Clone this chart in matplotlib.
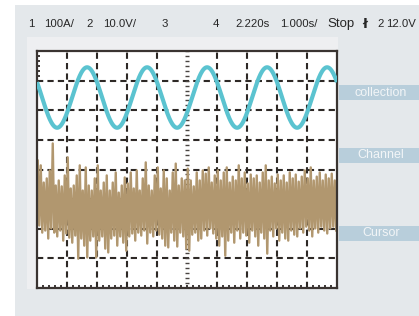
import numpy as np
import matplotlib.pyplot as plt
from matplotlib.patches import Rectangle

# scope settings shown in the header
header_tokens = ["1", "100A/", "2", "10.0V/", "3", "4", "2.220s", "1.000s/",
                 "Stop", "ł", "2", "12.0V"]
side_labels = ["collection", "Channel", "Cursor"]

# sine trace: 10 V/div, 1 s/div
sine_period = 2.0
sine_amplitude = 10.2
sine_offset = 24.3
sine_peak_time = 1.67

# noisy trace, one high/low pair per 0.1 s column (volts)
noise_high = [
    3.0, 1.4, -4.4, -3.0, -0.3, 8.8, -5.4, -3.7, -5.7, -2.0,
    4.1, -6.4, -5.4, -2.0, 1.4, -7.1, 0.7, -5.4, -7.1, -3.0,
    1.4, -7.1, -4.4, -2.0, -7.1, -4.4, -1.0, -7.8, -5.4, -2.7,
    -4.7, -1.0, -6.4, -0.3, -7.1, -3.0, 2.4, -5.4, -7.1, -2.0,
    0.7, -6.4, -0.3, -3.0, -7.1, -1.0, 2.0, -5.4, -3.0, -3.7,
    0.3, -3.7, -5.7, -1.0, -3.7, -0.3, -1.4, 0.7, -4.4, -2.0,
    -0.3, -3.7, -1.0, 0.7, -4.4, -2.4, -3.7, 1.4, -3.0, -1.0,
    -4.7, -1.7, -3.0, -2.0, -4.4, -1.0, 1.4, -3.7, -2.4, -4.7,
    -1.7, -3.7, -2.0, -4.4, -1.0, -3.0, -1.7, -4.1, -2.4, -0.3,
    -3.0, 0.7, -3.7, -2.4, -1.0, -3.7, -1.7, -3.0, -1.4, -3.7,
]
noise_low = [
    -18.9, -21.3, -20.6, -23.3, -19.9, -21.3, -22.6, -20.6, -24.0, -21.6,
    -23.0, -24.7, -22.3, -30.1, -23.3, -25.7, -29.7, -24.0, -22.6, -29.7,
    -24.0, -22.6, -26.7, -28.0, -23.3, -22.3, -25.7, -22.6, -24.7, -27.4,
    -22.6, -21.6, -24.0, -21.3, -22.3, -20.6, -25.0, -21.3, -22.6, -20.6,
    -22.0, -23.3, -25.7, -26.3, -21.3, -24.0, -26.0, -21.3, -22.6, -26.7,
    -27.4, -22.0, -21.3, -24.0, -23.3, -20.6, -22.3, -19.9, -21.6, -23.3,
    -25.7, -22.6, -29.1, -24.0, -21.3, -24.7, -20.6, -23.3, -21.3, -22.3,
    -24.7, -20.6, -22.6, -25.7, -21.3, -23.3, -28.4, -20.6, -22.6, -19.9,
    -24.0, -21.3, -23.3, -24.0, -20.6, -22.0, -22.6, -19.9, -21.3, -19.3,
    -20.6, -22.6, -19.9, -21.3, -19.3, -20.6, -21.6, -19.9, -19.3, -20.6,
]

W, H = 419, 316
GRID = "#2e2926"


def fig_rect(fig, x, y, w, h, color):
    # x, y given in pixels from the top-left corner
    fig.add_artist(Rectangle((x / W, 1 - (y + h) / H), w / W, h / H,
                             transform=fig.transFigure, facecolor=color,
                             edgecolor="none", zorder=0))


def main() -> None:
    fig = plt.figure(figsize=(W / 100, H / 100), dpi=100, facecolor="white")
    fig_rect(fig, 15, 5, W - 15, H - 5, "#e4e8eb")
    fig_rect(fig, 27, 37, 311, 252, "#eeeff1")

    ax = fig.add_axes([37 / W, (H - 288) / H, 300 / W, 237 / H])
    ax.set_xlim(0, 10)
    ax.set_ylim(-40, 40)
    ax.set_facecolor("white")
    for spine in ax.spines.values():
        spine.set_color("#3a3431")
        spine.set_linewidth(1.6)

    ax.set_xticks([])
    ax.set_yticks([])
    ax.set_xticks(np.arange(0.2, 10, 0.2), minor=True)
    ax.set_yticks(np.arange(30 + 10 / 6, 40, 10 / 6), minor=True)
    ax.tick_params(which="minor", direction="in", length=2.5, width=1.3,
                   color=GRID, labelbottom=False, labelleft=False)

    # graticule
    for x in range(1, 10):
        if x == 5:
            continue
        ax.axvline(x, color=GRID, lw=1.5, ls=(0, (3, 2)), zorder=1)
    for y in range(-30, 40, 10):
        ax.axhline(y, color=GRID, lw=1.5, ls=(0, (3, 2)), zorder=1)
    centre_y = np.arange(-40 + 10 / 6, 40, 10 / 6)
    ax.plot(np.full(len(centre_y), 5.0), centre_y, ls="none", marker="_",
            ms=3.5, mew=1.0, color="#4a4542", zorder=1)

    # noise trace
    cols = np.arange(len(noise_high)) * 0.1
    tn = np.empty(2 * len(cols))
    yn = np.empty(2 * len(cols))
    tn[0::2] = cols + 0.025
    tn[1::2] = cols + 0.075
    yn[0::2] = noise_high
    yn[1::2] = noise_low
    ax.plot(tn, yn, color="#b1976f", lw=1.7, zorder=2)

    # sine trace
    t = np.linspace(0, 10, 800)
    ys = sine_offset + sine_amplitude * np.cos(2 * np.pi * (t - sine_peak_time) / sine_period)
    ax.plot(t, ys, color="#5bc3d0", lw=3, zorder=3, solid_capstyle="butt")

    # header
    header_x = [28, 44, 86, 103, 162, 213, 235, 280, 327, 362, 377, 386]
    for tok, x in zip(header_tokens, header_x):
        size = 9.5 if tok in ("Stop", "ł") else 8.2
        weight = "bold" if tok == "ł" else "normal"
        fam = ["DejaVu Sans"] if tok == "ł" else ["Liberation Sans", "DejaVu Sans"]
        fig.text(x / W, 1 - 24 / H, tok, fontsize=size, fontweight=weight,
                 family=fam, color="#262626", ha="left", va="center")

    # side labels
    for label, y in zip(side_labels, [85, 148, 226]):
        fig_rect(fig, 339, y, 80, 15, "#b8cedb")
        fig.text(381 / W, 1 - (y + 7.5) / H, label, fontsize=9,
                 family=["Liberation Sans"], color="#f2f5f7",
                 ha="center", va="center")

    fig.savefig("out.png", dpi=100)


if __name__ == "__main__":
    main()
